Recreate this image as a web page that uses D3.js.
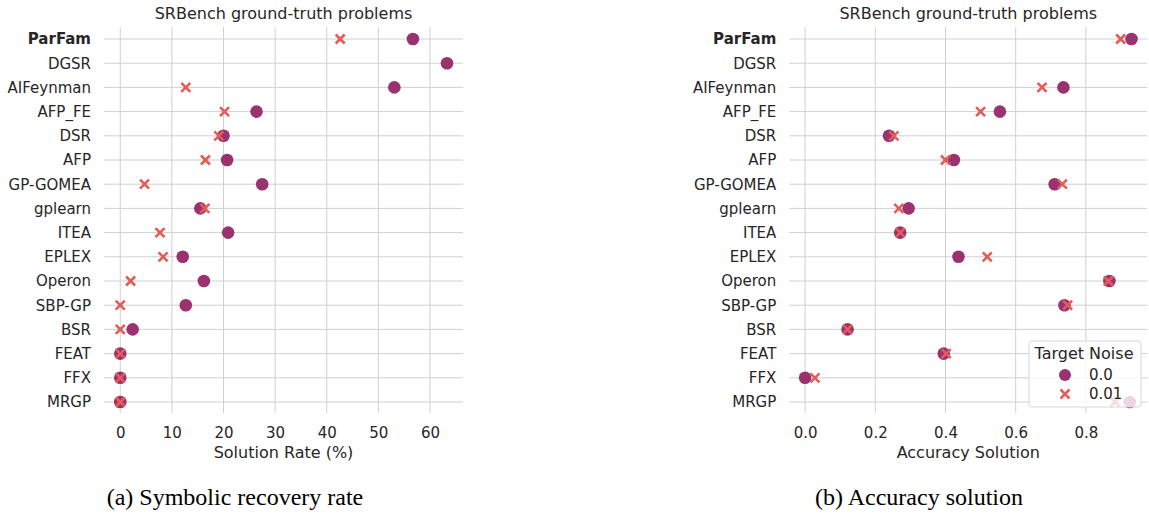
<!DOCTYPE html>
<html>
<head>
<meta charset="utf-8">
<script src="https://cdn.jsdelivr.net/npm/d3@7"></script>
<style>
  body { margin: 0; background: #fff; }
  svg text { font-family: "DejaVu Sans", sans-serif; fill: #262626; }
</style>
</head>
<body>
<div id="chart"></div>
<script>
var svgWidth = 1149;
var svgHeight = 514;

// data
var methods = ["ParFam", "DGSR", "AIFeynman", "AFP_FE", "DSR", "AFP", "GP-GOMEA", "gplearn",
  "ITEA", "EPLEX", "Operon", "SBP-GP", "BSR", "FEAT", "FFX", "MRGP"];
var rateNoise0 = [56.7, 63.3, 53.1, 26.4, 20.0, 20.7, 27.5, 15.5, 20.9, 12.1, 16.2, 12.7, 2.4, 0, 0, 0];
var rateNoise01 = [42.6, null, 12.7, 20.2, 19.1, 16.5, 4.7, 16.4, 7.7, 8.3, 2.0, 0, 0, 0, 0, 0];
var accNoise0 = [0.930, null, 0.736, 0.555, 0.239, 0.424, 0.711, 0.295, 0.271, 0.437, 0.867, 0.739, 0.121, 0.395, 0.0, 0.925];
var accNoise01 = [0.899, null, 0.675, 0.500, 0.253, 0.400, 0.733, 0.267, 0.271, 0.519, 0.864, 0.748, 0.121, 0.402, 0.028, 0.883];
var rateTicks = [0, 10, 20, 30, 40, 50, 60];
var accTicks = [0.0, 0.2, 0.4, 0.6, 0.8];
var noiseLevels = ["0.0", "0.01"];

var circleColor = "#9b3270";
var crossColor = "#e35c58";
var gridColor = "#d0d0d0";

var svg = d3.select("#chart")
  .append("svg")
  .attr("width", svgWidth)
  .attr("height", svgHeight);

var y = d3.scalePoint()
  .domain(methods)
  .range([39, 402]);

function drawPanel(opts) {
  var x = d3.scaleLinear()
    .domain(opts.domain)
    .range(opts.range);

  var g = svg.append("g");

  // vertical grid
  g.selectAll(".vgrid")
    .data(opts.ticks)
    .enter()
    .append("line")
    .attr("x1", d => x(d))
    .attr("x2", d => x(d))
    .attr("y1", 27)
    .attr("y2", 413)
    .attr("stroke", gridColor)
    .attr("stroke-width", 1);

  // horizontal grid
  g.selectAll(".hgrid")
    .data(methods)
    .enter()
    .append("line")
    .attr("x1", opts.range[0])
    .attr("x2", opts.range[1])
    .attr("y1", d => y(d))
    .attr("y2", d => y(d))
    .attr("stroke", gridColor)
    .attr("stroke-width", 1);

  // x ticks via axis
  var bottomAxis = d3.axisBottom(x)
    .tickValues(opts.ticks)
    .tickFormat(opts.format)
    .tickSize(0)
    .tickPadding(0);

  var xAxis = g.append("g")
    .attr("transform", "translate(0, 427)")
    .call(bottomAxis);
  xAxis.select(".domain").remove();
  xAxis.selectAll("text")
    .attr("font-size", "15px")
    .attr("fill", "#262626")
    .attr("font-family", "DejaVu Sans, sans-serif");

  // y labels via axis
  var leftAxis = d3.axisLeft(y).tickSize(0).tickPadding(0);
  var yAxis = g.append("g")
    .attr("transform", `translate(${opts.range[0] - 13}, 0)`)
    .call(leftAxis);
  yAxis.select(".domain").remove();
  yAxis.selectAll("text")
    .attr("font-size", "15px")
    .attr("fill", "#262626")
    .attr("font-family", "DejaVu Sans, sans-serif")
    .attr("font-weight", d => d === "ParFam" ? "bold" : "normal");

  // title and axis label
  var cx = (opts.range[0] + opts.range[1]) / 2;
  g.append("text")
    .attr("x", cx)
    .attr("y", 19)
    .attr("text-anchor", "middle")
    .attr("font-size", "16px")
    .text("SRBench ground-truth problems");

  g.append("text")
    .attr("x", cx)
    .attr("y", 458)
    .attr("text-anchor", "middle")
    .attr("font-size", "16px")
    .text(opts.xlabel);

  // circles (noise 0.0)
  g.selectAll(".dot")
    .data(methods.map((m, i) => ({ m: m, v: opts.v0[i] })).filter(d => d.v !== null))
    .enter()
    .append("circle")
    .attr("cx", d => x(d.v))
    .attr("cy", d => y(d.m))
    .attr("r", 6.3)
    .attr("fill", circleColor);

  // crosses (noise 0.01)
  g.selectAll(".cross")
    .data(methods.map((m, i) => ({ m: m, v: opts.v1[i] })).filter(d => d.v !== null))
    .enter()
    .append("path")
    .attr("transform", d => `translate(${x(d.v)}, ${y(d.m)})`)
    .attr("d", "M-4.5,-4.5L4.5,4.5M-4.5,4.5L4.5,-4.5")
    .attr("stroke", crossColor)
    .attr("stroke-width", 2.6)
    .attr("fill", "none");

  return g;
}

drawPanel({
  domain: [-3.15, 66.4],
  range: [104, 463],
  ticks: rateTicks,
  format: d3.format("d"),
  v0: rateNoise0,
  v1: rateNoise01,
  xlabel: "Solution Rate (%)"
});

drawPanel({
  domain: [-0.045, 0.975],
  range: [789.3, 1147.3],
  ticks: accTicks,
  format: d3.format(".1f"),
  v0: accNoise0,
  v1: accNoise01,
  xlabel: "Accuracy Solution"
});

// legend
var legend = svg.append("g").attr("transform", "translate(1029, 341)");
legend.append("rect")
  .attr("width", 112)
  .attr("height", 66)
  .attr("rx", 3)
  .attr("fill", "#fff")
  .attr("fill-opacity", 0.8)
  .attr("stroke", "#d8d8d8");
legend.append("text")
  .attr("x", 55)
  .attr("y", 18)
  .attr("text-anchor", "middle")
  .attr("font-size", "16px")
  .text("Target Noise");

noiseLevels.forEach(function(lvl, i) {
  var ly = 34 + i * 19;
  if (i === 0) {
    legend.append("circle")
      .attr("cx", 36).attr("cy", ly).attr("r", 6)
      .attr("fill", circleColor);
  } else {
    legend.append("path")
      .attr("transform", `translate(36, ${ly})`)
      .attr("d", "M-4.5,-4.5L4.5,4.5M-4.5,4.5L4.5,-4.5")
      .attr("stroke", crossColor)
      .attr("stroke-width", 2.6);
  }
  legend.append("text")
    .attr("x", 60)
    .attr("y", ly + 5)
    .attr("font-size", "15px")
    .text(lvl);
});

// sub-figure captions
svg.append("text")
  .attr("x", 235)
  .attr("y", 505)
  .attr("text-anchor", "middle")
  .style("font-family", "Liberation Serif, serif")
  .style("fill", "#000")
  .attr("font-size", "24px")
  .text("(a) Symbolic recovery rate");

svg.append("text")
  .attr("x", 919)
  .attr("y", 505)
  .attr("text-anchor", "middle")
  .style("font-family", "Liberation Serif, serif")
  .style("fill", "#000")
  .attr("font-size", "24px")
  .text("(b) Accuracy solution");
</script>
</body>
</html>
